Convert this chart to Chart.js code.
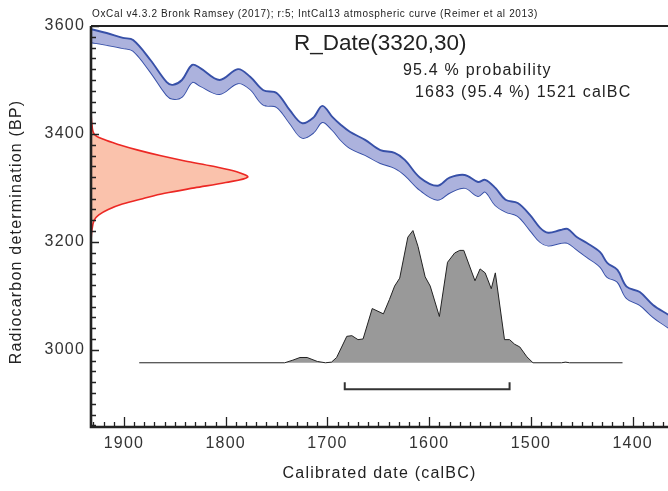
<!DOCTYPE html>
<html>
<head>
<meta charset="utf-8">
<script src="https://cdn.jsdelivr.net/npm/chart.js@4"></script>
<style>
  html, body { margin: 0; padding: 0; background: #fff; }
  canvas { display: block; }
</style>
</head>
<body>
<canvas id="chart" width="668" height="491"></canvas>
<script>
// IntCal13 band (calBC / BP)
const curveYears = [1932, 1917, 1901, 1891, 1874, 1858, 1852, 1843, 1833, 1825, 1806, 1788, 1776, 1763, 1750, 1737, 1725, 1714, 1705, 1695,
  1687, 1678, 1663, 1648, 1634, 1624, 1609, 1592, 1580, 1565, 1552, 1545, 1535, 1525, 1513, 1501, 1491, 1483, 1471, 1464,
  1455, 1445, 1432, 1425, 1415, 1406, 1393, 1380, 1365];
const curveUpper = [3594, 3587, 3578, 3574, 3537, 3496, 3491, 3500, 3528, 3522, 3500, 3520, 3506, 3481, 3476, 3444, 3420, 3430, 3452, 3431,
  3417, 3404, 3389, 3370, 3365, 3352, 3319, 3304, 3319, 3324, 3311, 3315, 3300, 3278, 3272, 3250, 3226, 3217, 3222, 3224,
  3209, 3198, 3181, 3161, 3148, 3117, 3107, 3083, 3065];
const curveLower = [3570, 3565, 3559, 3554, 3515, 3472, 3465, 3469, 3496, 3489, 3474, 3494, 3483, 3454, 3450, 3420, 3393, 3402, 3422, 3407,
  3389, 3374, 3361, 3346, 3337, 3324, 3296, 3278, 3291, 3300, 3285, 3293, 3268, 3256, 3248, 3222, 3200, 3193, 3198, 3198,
  3186, 3172, 3154, 3135, 3126, 3096, 3083, 3061, 3041];

// R_Date(3320,30) likelihood on the BP axis (relative)
const likBP = [3440, 3420, 3400, 3390, 3380, 3370, 3360, 3350, 3340, 3330, 3320, 3310, 3300, 3290, 3280, 3270, 3260, 3250, 3240, 3220, 3200];
const likProb = [0, 0.005, 0.02, 0.08, 0.18, 0.30, 0.44, 0.60, 0.78, 0.93, 1.0, 0.86, 0.66, 0.47, 0.33, 0.20, 0.11, 0.05, 0.02, 0.005, 0];

// calibrated posterior (relative)
const postYears = [1885, 1742, 1734, 1727, 1720, 1710, 1702, 1696, 1691, 1681, 1676, 1670, 1665, 1656, 1645, 1639, 1634, 1629, 1621, 1616,
  1611, 1604, 1599, 1590, 1582, 1575, 1570, 1566, 1555, 1550, 1545, 1539, 1535, 1526, 1521, 1516, 1511, 1504, 1498, 1470,
  1466, 1462, 1410];
const postProb = [0, 0, 0.02, 0.04, 0.04, 0.01, 0, 0.005, 0.04, 0.20, 0.205, 0.175, 0.18, 0.41, 0.37, 0.48, 0.58, 0.64, 0.95, 1.0,
  0.88, 0.65, 0.58, 0.35, 0.76, 0.83, 0.85, 0.85, 0.62, 0.71, 0.68, 0.56, 0.68, 0.175, 0.175, 0.14, 0.12, 0.045, 0, 0,
  0.005, 0, 0];

// 95.4% range
const rangeYears = [1683, 1521];

const xTicks = [1900, 1800, 1700, 1600, 1500, 1400];
const yTicks = [3000, 3200, 3400, 3600];

const X_MIN = 1365.3, X_MAX = 1932.4;
const Y_MIN = 2857, Y_MAX = 3600;

// how big the two distributions are drawn
const LIK_WIDTH = 154;     // years at the peak
const POST_BASE = 2976;    // BP of baseline
const POST_HEIGHT = 245;   // BP units at the peak
const BR_LOW = 2927, BR_TOP = 2940;

const FONT = '"Liberation Sans", Arial, sans-serif';

const bandUpper = curveYears.map((yr, i) => ({ x: yr, y: curveUpper[i] }));
const bandLower = curveYears.map((yr, i) => ({ x: yr, y: curveLower[i] }));
const likPts = likBP.map((bp, i) => ({ x: X_MAX - likProb[i] * LIK_WIDTH, y: bp }));
const postPts = postYears.map((yr, i) => ({ x: yr, y: POST_BASE + postProb[i] * POST_HEIGHT }));
const bracketPts = [
  { x: rangeYears[0], y: BR_TOP }, { x: rangeYears[0], y: BR_LOW },
  { x: rangeYears[1], y: BR_LOW }, { x: rangeYears[1], y: BR_TOP }
];

// letter spacing for all the text chart.js draws
const spacing = {
  id: 'spacing',
  beforeDraw(chart) { chart.ctx.letterSpacing = '1.2px'; }
};

// oxcal style axes: thick lines, ticks pointing inward
const axes = {
  id: 'axes',
  afterDatasetsDraw(chart) {
    const { ctx, chartArea: a, scales: { x, y } } = chart;
    ctx.save();
    ctx.strokeStyle = '#222';
    ctx.lineWidth = 1.3;
    ctx.beginPath();
    for (let v = 1370; v <= 1930; v += 10) {
      const px = Math.round(x.getPixelForValue(v)) + 0.5;
      const len = v % 100 === 0 ? 10 : 5;
      ctx.moveTo(px, a.bottom);
      ctx.lineTo(px, a.bottom - len);
    }
    for (let v = 2860; v <= 3600; v += 20) {
      const py = Math.round(y.getPixelForValue(v)) + 0.5;
      const len = v % 200 === 0 ? 8 : 5;
      ctx.moveTo(a.left, py);
      ctx.lineTo(a.left + len, py);
    }
    ctx.stroke();

    ctx.lineWidth = 2.6;
    ctx.beginPath();
    ctx.moveTo(a.left, a.top);
    ctx.lineTo(a.left, a.bottom);
    ctx.lineTo(a.right, a.bottom);
    ctx.stroke();
    ctx.lineWidth = 2;
    ctx.beginPath();
    ctx.moveTo(a.left, a.top);
    ctx.lineTo(a.right, a.top);
    ctx.stroke();
    ctx.restore();
  }
};

const notes = {
  id: 'notes',
  afterDraw(chart) {
    const ctx = chart.ctx;
    ctx.save();
    ctx.fillStyle = '#222';
    ctx.textAlign = 'left';
    ctx.textBaseline = 'alphabetic';
    ctx.letterSpacing = '0.65px';
    ctx.font = '10px ' + FONT;
    ctx.fillText('OxCal v4.3.2 Bronk Ramsey (2017); r:5; IntCal13 atmospheric curve (Reimer et al 2013)', 92, 17);
    ctx.letterSpacing = '0px';
    ctx.font = '22.5px ' + FONT;
    ctx.fillText('R_Date(3320,30)', 294, 50);
    ctx.letterSpacing = '1.2px';
    ctx.font = '16px ' + FONT;
    ctx.fillText('95.4 % probability', 403, 75);
    ctx.fillText('1683 (95.4 %) 1521 calBC', 415, 97);

    // y axis title
    ctx.translate(17, 232);
    ctx.rotate(-Math.PI / 2);
    ctx.textAlign = 'center';
    ctx.textBaseline = 'middle';
    ctx.fillText('Radiocarbon determination (BP)', 0, 0);
    ctx.restore();
  }
};

new Chart(document.getElementById('chart'), {
  type: 'line',
  data: {
    datasets: [
      {
        data: bracketPts,
        borderColor: '#333',
        borderWidth: 2,
        fill: false
      },
      {
        data: postPts,
        borderColor: '#222',
        borderWidth: 1,
        backgroundColor: 'rgb(153,153,153)',
        fill: { value: POST_BASE },
        tension: 0
      },
      {
        data: likPts,
        borderColor: 'rgb(236,40,36)',
        borderWidth: 1.6,
        backgroundColor: 'rgb(250,194,172)',
        fill: 'shape',
        tension: 0.35
      },
      {
        data: bandUpper,
        borderColor: 'rgb(55,80,168)',
        borderWidth: 1.9,
        backgroundColor: 'rgb(172,178,221)',
        fill: '+1',
        tension: 0.35
      },
      {
        data: bandLower,
        borderColor: 'rgb(55,80,168)',
        borderWidth: 1.9,
        fill: false,
        tension: 0.35
      }
    ]
  },
  options: {
    responsive: false,
    animation: false,
    events: [],
    layout: { padding: { top: 26, left: 0, right: 0, bottom: 0 } },
    elements: { point: { radius: 0 } },
    plugins: {
      legend: { display: false },
      tooltip: { enabled: false }
    },
    scales: {
      x: {
        type: 'linear',
        reverse: true,
        min: X_MIN,
        max: X_MAX,
        grid: { display: false, drawTicks: false },
        border: { display: false },
        afterBuildTicks: s => { s.ticks = xTicks.map(v => ({ value: v })); },
        afterFit: s => { s.height = 64; },
        ticks: {
          autoSkip: false,
          maxRotation: 0,
          padding: 7,
          color: '#333',
          font: { family: FONT, size: 16 },
          callback: v => String(v)
        },
        title: {
          display: true,
          text: 'Calibrated date (calBC)',
          color: '#222',
          font: { family: FONT, size: 16 },
          padding: { top: 0, bottom: 8 }
        }
      },
      y: {
        type: 'linear',
        min: Y_MIN,
        max: Y_MAX,
        grid: { display: false, drawTicks: false },
        border: { display: false },
        afterBuildTicks: s => { s.ticks = yTicks.map(v => ({ value: v })); },
        afterFit: s => { s.width = 91; },
        ticks: {
          autoSkip: false,
          padding: 6,
          color: '#333',
          font: { family: FONT, size: 16 },
          callback: v => String(v)
        }
      }
    }
  },
  plugins: [spacing, axes, notes]
});
</script>
</body>
</html>
